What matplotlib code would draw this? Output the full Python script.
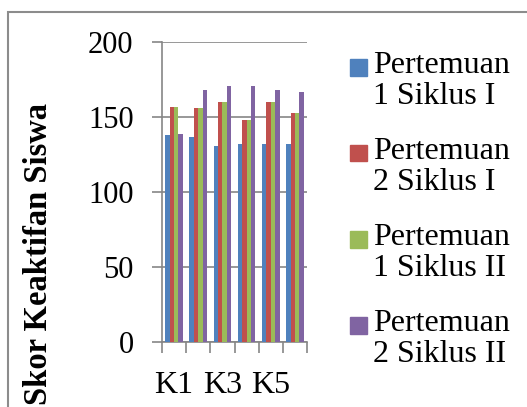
import numpy as np
import matplotlib.pyplot as plt
from matplotlib.patches import Rectangle

# data
kategori = ["K1", "K2", "K3", "K4", "K5", "K6"]
seri = ["Pertemuan\n1 Siklus I", "Pertemuan\n2 Siklus I",
        "Pertemuan\n1 Siklus II", "Pertemuan\n2 Siklus II"]
p1_siklus1 = [138, 137, 131, 132, 132, 132]
p2_siklus1 = [157, 156, 160, 148, 160, 153]
p1_siklus2 = [157, 156, 160, 148, 160, 153]
p2_siklus2 = [139, 168, 171, 171, 168, 167]
warna = ["#4F81BD", "#C0504D", "#9BBB59", "#8064A2"]

plt.rcParams['font.family'] = ['Liberation Serif', 'DejaVu Serif']

W, H = 527, 407
fig = plt.figure(figsize=(W / 100, H / 100), dpi=100)
ax = fig.add_axes([162 / W, 1 - 342 / H, 145 / W, 300 / H])

nilai = [p1_siklus1, p2_siklus1, p1_siklus2, p2_siklus2]
x = np.arange(len(kategori))
lebar = 1 / 5.5
for i, (v, c) in enumerate(zip(nilai, warna)):
    ax.bar(x + (i - 1.5) * lebar, v, width=lebar, color=c, zorder=3)

ax.set_xlim(-0.5, len(kategori) - 0.5)
ax.set_ylim(0, 200)
ax.set_yticks([0, 50, 100, 150, 200])
ax.yaxis.grid(True, color='#868686', linewidth=1.2, zorder=0)

# label only every other category, ticks between categories
ax.set_xticks(x[::2])
ax.set_xticklabels(kategori[::2])
ax.set_xticks(np.arange(-0.5, len(kategori)), minor=True)
ax.tick_params(axis='x', which='major', length=0, pad=21, labelsize=23)
ax.tick_params(axis='x', which='minor', length=8, width=1.2, color='#868686')
ax.tick_params(axis='y', length=7, width=1.2, color='#868686', pad=13.5, labelsize=22)

for s in ['top', 'right']:
    ax.spines[s].set_visible(False)
for s in ['left', 'bottom']:
    ax.spines[s].set_color('#868686')
    ax.spines[s].set_linewidth(1.2)

fig.text(39 / W, 2 / H, "Skor Keaktifan Siswa", rotation=90, fontsize=23.5,
         fontweight='bold', ha='center', va='bottom')

# legend drawn by hand so the square sits on the first line
for i, (lab, c) in enumerate(zip(seri, warna)):
    yc = 67 + i * 86
    fig.patches.append(Rectangle((350 / W, 1 - (yc + 8.5) / H), 17 / W, 17 / H,
                                 transform=fig.transFigure, color=c))
    fig.text(373 / W, 1 - (yc - 16) / H, lab, fontsize=23, va='top',
             ha='left', linespacing=1.09)

# chart area border
fig.patches.append(Rectangle((8 / W, -0.1), 1.2, 1.1 - 12 / H, fill=False,
                             edgecolor='#8c8c8c', linewidth=1.5,
                             transform=fig.transFigure))

fig.savefig("out.png", dpi=100)
